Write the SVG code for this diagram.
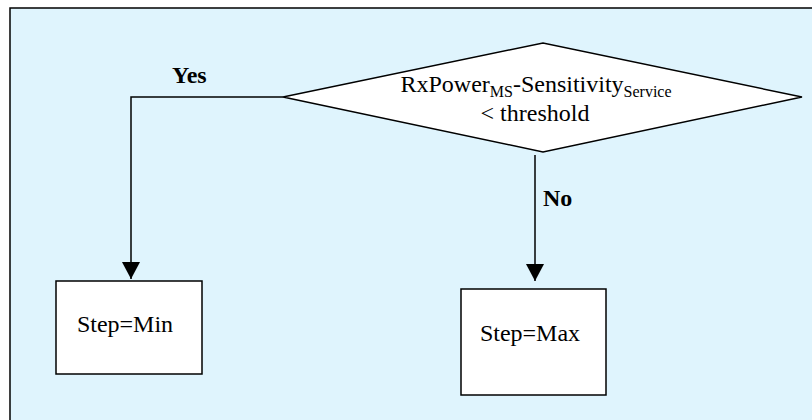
<svg xmlns="http://www.w3.org/2000/svg" width="812" height="420" viewBox="0 0 812 420">
<style>
.shape{fill:#fff;stroke:#000;stroke-width:1.5}
.conn{fill:none;stroke:#000;stroke-width:1.5}
.t{font-family:"Liberation Serif","Times New Roman",serif;font-size:24px;fill:#000}
.b{font-weight:bold}
.s{font-size:16px}
</style>
<defs>
<marker id="arr" markerUnits="userSpaceOnUse" markerWidth="20" markerHeight="20" viewBox="0 0 20 18" refX="17" refY="9" orient="auto">
<path d="M0,0 L17,9 L0,18 Z" fill="#000"/>
</marker>
</defs>
<rect x="10" y="8" width="820" height="430" fill="#DFF4FD" stroke="#000" stroke-width="1.5"/>
<g id="connectors">
<path class="conn" d="M283,97 H131 V279" marker-end="url(#arr)"/>
<path class="conn" d="M535,155 V281" marker-end="url(#arr)"/>
<text class="t b" x="172" y="83">Yes</text>
<text class="t b" x="543" y="206">No</text>
</g>
<g id="decision">
<polygon class="shape" points="283,97 543,43 802,97 543,152"/>
<text class="t" x="536" y="92" text-anchor="middle">RxPower<tspan class="s" dy="5">MS</tspan><tspan dy="-5">-Sensitivity</tspan><tspan class="s" dy="5">Service</tspan></text>
<text class="t" x="535" y="121" text-anchor="middle">&lt; threshold</text>
</g>
<g id="stepmin">
<rect class="shape" x="56" y="281" width="146" height="93"/>
<text class="t" x="125" y="332" text-anchor="middle">Step=Min</text>
</g>
<g id="stepmax">
<rect class="shape" x="461" y="289" width="145" height="106"/>
<text class="t" x="530" y="341" text-anchor="middle">Step=Max</text>
</g>
</svg>
